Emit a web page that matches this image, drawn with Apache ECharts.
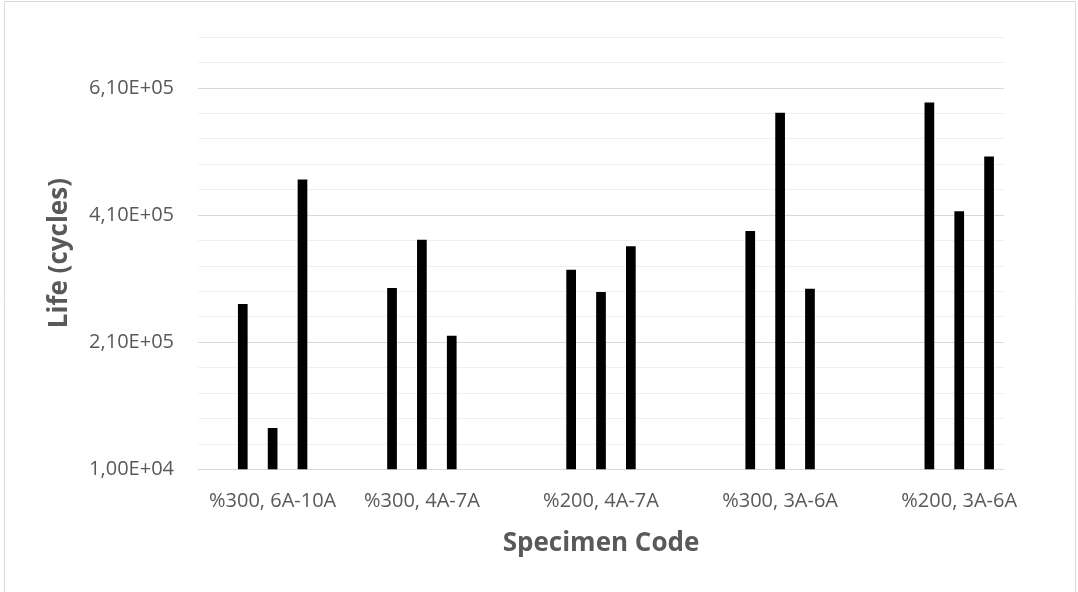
<!DOCTYPE html>
<html>
<head>
<meta charset="utf-8">
<script src="https://cdn.jsdelivr.net/npm/echarts@6/dist/echarts.min.js"></script>
<style>
  html, body { margin: 0; padding: 0; background: #ffffff; }
  #chart { width: 1078px; height: 592px; }
</style>
</head>
<body>
<div id="chart"></div>
<script>
// Specimen groups shown on the category axis
const groups = ['%300, 6A-10A', '%300, 4A-7A', '%200, 4A-7A', '%300, 3A-6A', '%200, 3A-6A'];

// Fatigue life (cycles) of the three specimens tested in each group
const life_300_6A10A = [270000, 75000, 466000];
const life_300_4A7A  = [295000, 371000, 220000];
const life_200_4A7A  = [324000, 289000, 361000];
const life_300_3A6A  = [385000, 571000, 294000];
const life_200_3A6A  = [587000, 416000, 502000];

// Value-axis range and steps
const yMin = 10000;
const yMax = 690000;
const yMajorStep = 200000;
const yMinorStep = 40000;

// Slot layout: the axis has one slot per bar with blank slots between groups
const slotCount = 27;
const groupStartSlot = [1, 6, 12, 18, 24];

const groupLife = [life_300_6A10A, life_300_4A7A, life_200_4A7A, life_300_3A6A, life_200_3A6A];
const slotLabels = new Array(slotCount).fill('');
const slotValues = new Array(slotCount).fill(null);
groupLife.forEach(function (vals, g) {
  const s = groupStartSlot[g];
  vals.forEach(function (v, i) { slotValues[s + i] = v; });
  slotLabels[s + 1] = groups[g];
});

// 6,10E+05 style (comma decimal separator, two-digit exponent)
function sciLabel(v) {
  const parts = v.toExponential(2).split('e');
  const mant = parts[0].replace('.', ',');
  const exp = parseInt(parts[1], 10);
  const sign = exp < 0 ? '-' : '+';
  const ed = String(Math.abs(exp)).padStart(2, '0');
  return mant + 'E' + sign + ed;
}

const minorPerMajor = yMajorStep / yMinorStep;
const gridColors = [];
for (let i = 0; i < minorPerMajor; i++) gridColors.push(i === 0 ? '#d9d9d9' : '#f0f0f0');

const font = 'Open Sans';

const chart = echarts.init(document.getElementById('chart'), null, { renderer: 'canvas' });
chart.setOption({
  backgroundColor: '#ffffff',
  animation: false,
  textStyle: { fontFamily: font },
  graphic: [{
    type: 'rect',
    shape: { x: 4.5, y: 1.5, width: 1071, height: 600 },
    style: { fill: 'none', stroke: '#d9d9d9', lineWidth: 1 },
    silent: true
  }],
  grid: { left: 198, right: 74, top: 37, bottom: 122.7, containLabel: false },
  xAxis: {
    type: 'category',
    data: slotLabels,
    boundaryGap: true,
    axisLine: { show: true, lineStyle: { color: '#d9d9d9', width: 1 } },
    axisTick: { show: false },
    axisLabel: { interval: 0, margin: 22, color: '#595959', fontSize: 20, fontFamily: font },
    splitLine: { show: false },
    name: 'Specimen Code',
    nameLocation: 'middle',
    nameGap: 61,
    nameTextStyle: { color: '#595959', fontSize: 26, fontWeight: 'bold', fontFamily: font }
  },
  yAxis: {
    type: 'value',
    min: yMin,
    max: yMax,
    interval: yMinorStep,
    axisLine: { show: false },
    axisTick: { show: false },
    axisLabel: {
      margin: 24,
      color: '#595959',
      fontSize: 20,
      fontFamily: font,
      formatter: function (v) {
        const k = Math.round((v - yMin) / yMinorStep);
        return k % minorPerMajor === 0 ? sciLabel(v) : '';
      }
    },
    splitLine: { show: true, lineStyle: { color: gridColors, width: 1 } },
    name: 'Life (cycles)',
    nameLocation: 'middle',
    nameRotate: 90,
    nameGap: 125,
    nameTextStyle: { color: '#595959', fontSize: 26, fontWeight: 'bold', fontFamily: font }
  },
  series: [{
    type: 'bar',
    data: slotValues,
    barWidth: 9.7,
    itemStyle: { color: '#000000' },
    silent: true
  }]
});
</script>
</body>
</html>
